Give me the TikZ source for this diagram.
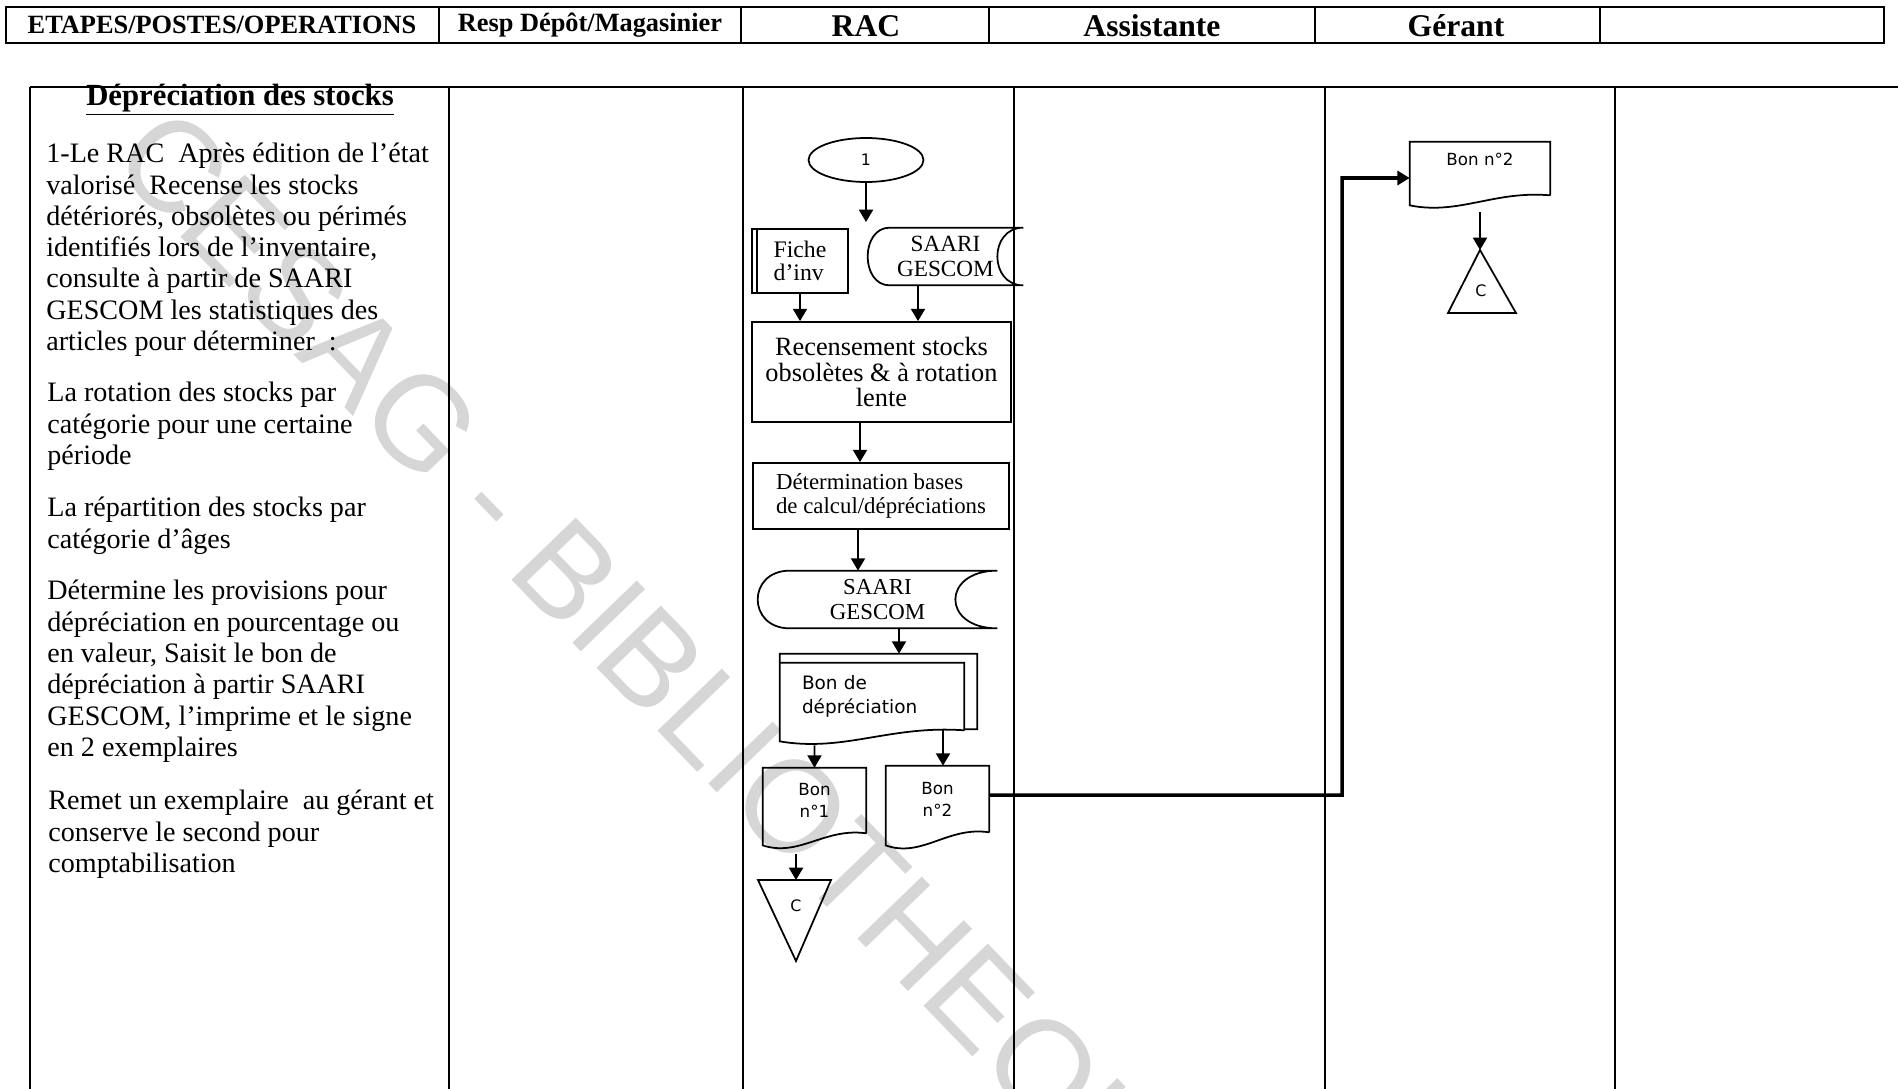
\documentclass[tikz,border=0pt]{standalone}
\usepackage{fontspec}
\setmainfont{Liberation Serif}
\newfontfamily\sansdoc{DejaVu Sans}
\newfontfamily\filigrane{Liberation Sans}
\usetikzlibrary{arrows.meta, shapes.geometric, positioning, calc}
\newcommand{\corps}{\fontsize{16}{17.8}\selectfont}
% contour de document : noeud, creux du bas
\newcommand{\feuille}[2]{%
  \draw[trait] (#1.south east) -- (#1.north east) -- (#1.north west)
    -- ($(#1.south west)+(0,#2)$)
    .. controls ($(#1.south west)!0.35!(#1.south east)+(0,2*#2)$)
    and ($(#1.south west)!0.6!(#1.south east)+(0,-0.5*#2)$) .. (#1.south east);}
% donnees stockees : noeud, rayon gauche, creux droit
\newcommand{\stockage}[3]{%
  \draw[trait] (#1.north east) -- ($(#1.north west)+(#2,0)$)
    .. controls ($(#1.north west)+(-0.333*#2,0)$) and ($(#1.south west)+(-0.333*#2,0)$)
    .. ($(#1.south west)+(#2,0)$) -- (#1.south east)
    .. controls ($(#1.south east)+(-1.333*#3,0)$) and ($(#1.north east)+(-1.333*#3,0)$)
    .. (#1.north east);}

\begin{document}
\begin{tikzpicture}[x=0.02cm, y=-0.02cm, >={Triangle[width=8pt,length=7pt]},
    couloir/.style={line width=1.2pt},
    cellule/.style={draw, line width=1pt},
    entete/.style={font=\bfseries\fontsize{18}{20}\selectfont},
    para/.style={anchor=north west, align=left, inner sep=0pt, font=\corps},
    boite/.style={draw, line width=1pt, inner sep=0pt, align=center},
    support/.style={inner sep=0pt, align=center},
    doc/.style={inner sep=0pt, align=center, font=\sansdoc\fontsize{9.5}{12.5}\selectfont},
    trait/.style={line width=1pt},
    fleche/.style={->, line width=1pt},
    liaison/.style={->, line width=2pt}]
  \useasboundingbox (0,0) rectangle (1898,1089);
  % Filigrane
  \node[text=black!16, font=\filigrane\fontsize{74}{74}\selectfont, rotate=-46]
      (filigrane) at (664,690) {CESAG - BIBLIOTHEQUE};
  % En-tetes
  \draw[cellule] (6,7) rectangle (439,43);
  \draw[cellule] (439,7) rectangle (741,43);
  \draw[cellule] (741,7) rectangle (989,43);
  \draw[cellule] (989,7) rectangle (1315,43);
  \draw[cellule] (1315,7) rectangle (1600,43);
  \draw[cellule] (1600,7) rectangle (1884,43);
  \node[font=\bfseries\fontsize{15}{16}\selectfont] (hEtapes) at (222,25) {ETAPES/POSTES/OPERATIONS};
  \node[font=\bfseries\fontsize{15}{16}\selectfont] (hResp) at (590,25) {Resp Dépôt/Magasinier};
  \node[entete] (hRac) at (866,26) {RAC};
  \node[entete] (hAssist) at (1152,26) {Assistante};
  \node[entete] (hGerant) at (1456,26) {Gérant};
  % Couloirs
  \draw[couloir] (30,87) -- (1898,87);
  \foreach \x in {30,449,743,1014,1325,1615}
    \draw[couloir] (\x,87) -- (\x,1089);
  % Colonne des etapes
  \node[font=\bfseries\fontsize{17.5}{18}\selectfont] (titre) at (240,100)
      {\underline{Dépréciation des stocks}};
  \node[para] (etape1) at (46,143) {1-Le RAC\ \ Après édition de l’état\\
      valorisé\ \ Recense les stocks\\
      détériorés, obsolètes ou périmés\\
      identifiés lors de l’inventaire,\\
      consulte à partir de SAARI\\
      GESCOM les statistiques des\\
      articles pour déterminer\ \ :};
  \node[para] (etape2) at (47,382) {La rotation des stocks par\\
      catégorie pour une certaine\\
      période};
  \node[para] (etape3) at (47,497) {La répartition des stocks par\\
      catégorie d’âges};
  \node[para] (etape4) at (47,580) {Détermine les provisions pour\\
      dépréciation en pourcentage ou\\
      en valeur, Saisit le bon de\\
      dépréciation à partir SAARI\\
      GESCOM, l’imprime et le signe\\
      en 2 exemplaires};
  \node[para] (etape5) at (48,790) {Remet un exemplaire\ \ au gérant et\\
      conserve le second pour\\
      comptabilisation};
  % RAC
  \node[ellipse, draw, line width=1pt, minimum width=2.3cm, minimum height=0.88cm,
        inner sep=0pt, font=\sansdoc\fontsize{9}{10}\selectfont] (debut) at (866,160) {1};
  \coordinate (finDebut) at (866,222);
  \draw[fleche] (debut) -- (finDebut);
  \node[boite, minimum width=1.92cm, minimum height=1.28cm, align=left,
        font=\fontsize{13.5}{13}\selectfont] (fiche) at (800,261) {Fiche\\d’inv};
  \draw[trait] ($(fiche.north west)+(6,0)$) -- ($(fiche.south west)+(6,0)$);
  \node[support, minimum width=3.1cm, minimum height=1.14cm,
        font=\fontsize{13.2}{14}\selectfont] (saari) at (945.5,256.5) {SAARI\\GESCOM};
  \stockage{saari}{22}{26}
  \node[boite, minimum width=5.18cm, minimum height=2cm,
        font=\fontsize{15}{14.7}\selectfont] (recens) at (881.5,372)
      {Recensement stocks\\obsolètes \& à rotation\\lente};
  \draw[fleche] (fiche.south) -- ($(recens.north)+(-81.5,0)$);
  \draw[fleche] ($(saari.south)+(-27.5,0)$) -- ($(recens.north)+(36.5,0)$);
  \node[boite, minimum width=5.12cm, minimum height=1.32cm, align=left,
        font=\fontsize{13}{13.5}\selectfont] (determ) at (881,496)
      {Détermination bases\\de calcul/dépréciations};
  \draw[fleche] ($(recens.south)+(-21.5,0)$) -- ($(determ.north)+(-21,0)$);
  \node[support, minimum width=4.78cm, minimum height=1.14cm,
        font=\fontsize{13}{14}\selectfont] (saari2) at (877.5,599.5) {SAARI\\GESCOM};
  \stockage{saari2}{32}{42}
  \draw[fleche] ($(determ.south)+(-23,0)$) -- ($(saari2.north)+(-19.5,0)$);
  % Bon de depreciation (2 exemplaires)
  \node[inner sep=0pt, minimum width=3.94cm, minimum height=1.5cm] (bdback) at (878.5,691.5) {};
  \node[doc, minimum width=3.68cm, minimum height=1.34cm, text width=2.8cm, align=left,
        font=\sansdoc\fontsize{10.5}{14}\selectfont] (bondep) at (872,696.5)
      {Bon de\\dépréciation};
  \feuille{bondep}{11}
  \draw[trait] (bondep.north west) -- (bdback.north west) -- (bdback.north east)
      -- (bdback.south east) -- (bdback.south east -| bondep.east);
  \draw[fleche] ($(saari2.south)+(21.5,0)$) -- ($(bdback.north)+(20.5,0)$);
  \node[doc, minimum width=2.06cm, minimum height=1.3cm] (bon1) at (814.5,800.5) {Bon\\n°1};
  \feuille{bon1}{12}
  \node[doc, minimum width=2.06cm, minimum height=1.32cm] (bon2) at (937.5,799) {Bon\\n°2};
  \feuille{bon2}{13}
  \draw[fleche] ($(bondep.south)+(-57.5,15)$) -- (bon1.north);
  \draw[fleche] ($(bdback.south)+(64.5,0)$) -- ($(bon2.north)+(5.5,0)$);
  % Classement C
  \coordinate (sommet1) at (796,880);
  \draw[trait] (758,880) -- (831,880) -- (796,961) -- cycle;
  \node[font=\sansdoc\fontsize{9}{10}\selectfont] (classe1) at (796,906) {C};
  \draw[fleche] ($(bon1.south)+(-18.5,21)$) -- (sommet1);
  % Gerant
  \node[doc, minimum width=2.8cm, minimum height=1.06cm,
        label={[anchor=north, yshift=-0.1cm, font=\sansdoc\fontsize{9.5}{10}\selectfont]north:Bon n°2}]
      (gbon) at (1480,168.5) {};
  \feuille{gbon}{10}
  \coordinate (coude) at (1342,178);
  \draw[liaison] ($(bon2.east)+(0,-4)$) -| (coude) -- ($(gbon.west)+(0,9.5)$);
  \coordinate (sommet2) at (1480,250);
  \draw[trait] (sommet2) -- (1516,313) -- (1448,313) -- cycle;
  \node[font=\sansdoc\fontsize{9}{10}\selectfont] (classe2) at (1481,291) {C};
  \draw[fleche] ($(gbon.south)+(0,17)$) -- (sommet2);
\end{tikzpicture}
\end{document}
